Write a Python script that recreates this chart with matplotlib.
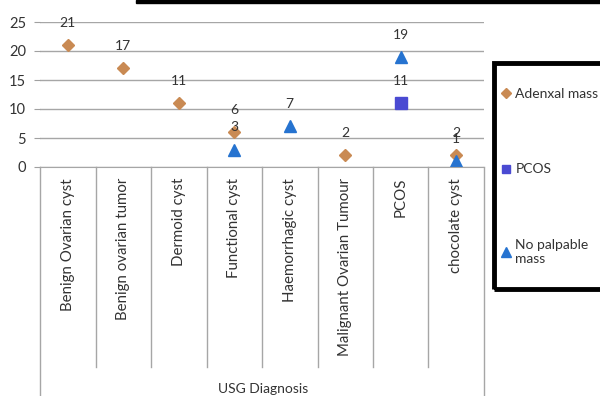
import numpy as np
import matplotlib.pyplot as plt
from matplotlib.patches import Rectangle
from matplotlib.lines import Line2D

categories = ["Benign Ovarian cyst", "Benign ovarian tumor", "Dermoid cyst",
              "Functional cyst", "Haemorrhagic cyst", "Malignant Ovarian Tumour",
              "PCOS", "chocolate cyst"]
adnexal = [21, 17, 11, 6, np.nan, 2, np.nan, 2]
pcos = [np.nan, np.nan, np.nan, np.nan, np.nan, np.nan, 11, np.nan]
no_palpable = [np.nan, np.nan, np.nan, 3, 7, np.nan, 19, 1]
y_ticks = [0, 5, 10, 15, 20, 25]

plt.rcParams['font.family'] = ['Lato', 'DejaVu Sans']
txt = '#333333'

fig = plt.figure(figsize=(6, 3.96), dpi=100)
W, H = 600, 396
ax = fig.add_axes([40 / W, 1 - 167 / H, 444 / W, 145 / H])

x = np.arange(len(categories))
series = [
    ("Adenxal mass", adnexal, 'D', '#C98A53', 6),
    ("PCOS", pcos, 's', '#4A4AD2', 8),
    ("No palpable\nmass", no_palpable, '^', '#2673D0', 9),
]
for name, vals, mk, col, ms in series:
    ax.plot(x, vals, linestyle='none', marker=mk, color=col, markersize=ms, label=name)
    for xi, v in zip(x, vals):
        if not np.isnan(v):
            ax.annotate(str(int(v)), (xi, v), xytext=(0, 16), textcoords='offset points',
                        ha='center', va='center', fontsize=10, color=txt)

ax.set_xlim(-0.5, len(categories) - 0.5)
ax.set_ylim(0, 25)
ax.set_yticks(y_ticks)
ax.tick_params(axis='y', length=4, color='#A0A0A0', labelsize=10.5, labelcolor=txt, pad=6)
ax.grid(axis='y', color='#A6A6A6', linewidth=1)
ax.set_axisbelow(True)
for s in ['top', 'right', 'left']:
    ax.spines[s].set_visible(False)
ax.spines['bottom'].set_color('#A6A6A6')

ax.set_xticks(x)
ax.set_xticklabels(categories, rotation=90, fontsize=10.8, color=txt, va='top')
ax.tick_params(axis='x', length=0, pad=8)

# category separators below the axis
for b in np.arange(len(categories) + 1) - 0.5:
    outer = b in (-0.5, len(categories) - 0.5)
    bottom = 0 if outer else 29 / H
    line = Line2D([(b + 0.5) / len(categories) * 444 / W + 40 / W] * 2,
                  [1 - 167 / H, bottom], transform=fig.transFigure,
                  color='#A6A6A6', linewidth=1)
    fig.add_artist(line)

fig.text(263 / W, 1 - 389 / H, "USG Diagnosis", ha='center', va='center',
         fontsize=10, color=txt)

# legend box
fig.add_artist(Rectangle((494 / W, 1 - 289 / H), 120 / W, 226 / H,
                         transform=fig.transFigure, fill=False,
                         edgecolor='black', linewidth=3.5))
fig.legend(loc='upper left', bbox_to_anchor=(496 / W, 1 - 82 / H), frameon=False,
           fontsize=10, labelcolor=txt, handlelength=0.7, handletextpad=0.3,
           labelspacing=4.6, markerscale=0.8, borderaxespad=0)

# black bar at the top
fig.add_artist(Rectangle((136 / W, 1 - 3 / H), 464 / W, 3 / H,
                         transform=fig.transFigure, color='black'))

fig.savefig("out.png", dpi=100)
